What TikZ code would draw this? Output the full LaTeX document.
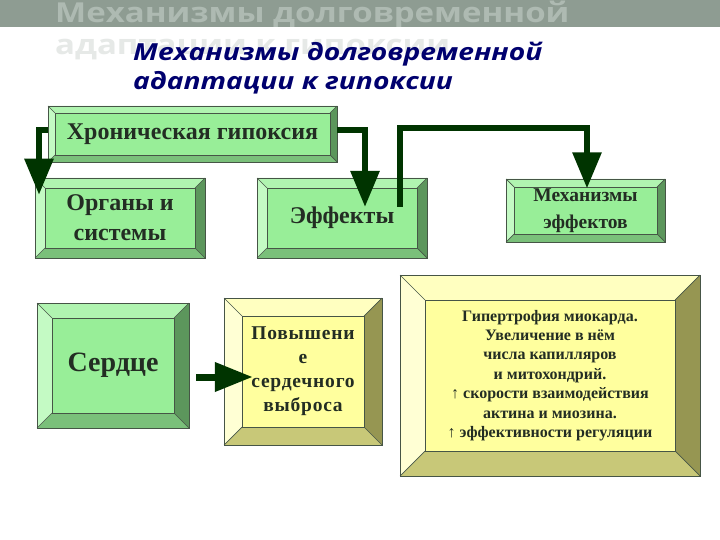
\documentclass[tikz,border=0pt]{standalone}
\usepackage{fontspec}
\setmainfont{Liberation Serif}
\newfontfamily\titlefont{Open Sans}[FakeStretch=1.2]
\usetikzlibrary{arrows.meta,calc}
\definecolor{banner}{RGB}{142,156,146}
\definecolor{ghostA}{RGB}{174,186,178}
\definecolor{ghostB}{RGB}{230,233,231}
\definecolor{navy}{RGB}{0,0,110}
\definecolor{conncol}{RGB}{0,52,0}
\definecolor{edgecol}{RGB}{70,85,70}
\definecolor{boxtxt}{RGB}{35,45,35}
% green palette
\definecolor{gT}{RGB}{176,244,176}
\definecolor{gL}{RGB}{196,250,196}
\definecolor{gR}{RGB}{92,150,92}
\definecolor{gB}{RGB}{122,192,122}
\definecolor{gC}{RGB}{152,238,152}
% yellow palette
\definecolor{yT}{RGB}{255,255,192}
\definecolor{yL}{RGB}{255,255,212}
\definecolor{yR}{RGB}{150,150,82}
\definecolor{yB}{RGB}{200,200,120}
\definecolor{yC}{RGB}{255,255,158}
\newcommand\bevbox[9]{% name,x1,y1,x2,y2,bevel,palette,font,text
  \fill[#7T] (#2,#3) -- (#4,#3) -- (#4-#6,#3+#6) -- (#2+#6,#3+#6) -- cycle;
  \fill[#7B] (#2,#5) -- (#4,#5) -- (#4-#6,#5-#6) -- (#2+#6,#5-#6) -- cycle;
  \fill[#7L] (#2,#3) -- (#2+#6,#3+#6) -- (#2+#6,#5-#6) -- (#2,#5) -- cycle;
  \fill[#7R] (#4,#3) -- (#4-#6,#3+#6) -- (#4-#6,#5-#6) -- (#4,#5) -- cycle;
  \fill[#7C] (#2+#6,#3+#6) rectangle (#4-#6,#5-#6);
  \draw[edgeline] (#2,#3) rectangle (#4,#5);
  \draw[edgeline] (#2+#6,#3+#6) rectangle (#4-#6,#5-#6);
  \draw[edgeline] (#2,#3) -- (#2+#6,#3+#6) (#4,#3) -- (#4-#6,#3+#6)
                  (#2,#5) -- (#2+#6,#5-#6) (#4,#5) -- (#4-#6,#5-#6);
  \node[boxlabel,font=#8,minimum width={#4-#2},minimum height={#3-#5}]
    (#1) at ({(#2+#4)/2},{(#3+#5)/2}) {#9};
}
\tikzset{
  edgeline/.style={draw=edgecol,line width=0.7pt},
  boxlabel/.style={inner sep=0pt,align=center,text=boxtxt},
  conn/.style={draw=conncol,line width=6pt,line join=miter,
    -{Triangle[length=36pt,width=28pt]}},
  connh/.style={draw=conncol,line width=7pt,
    -{Triangle[length=38pt,width=28pt]}},
  titletext/.style={anchor=base west,inner sep=0pt,text=navy,
    font=\titlefont\bfseries\itshape\fontsize{23.5}{27}\selectfont},
  ghosttext/.style={anchor=base west,inner sep=0pt,
    font=\titlefont\bfseries\fontsize{27.5}{33}\selectfont}
}
\begin{document}
\begin{tikzpicture}[x=1pt,y=-1pt]
\useasboundingbox (0,0) rectangle (720,540);
\fill[white] (0,0) rectangle (720,540);
% banner with ghost title
\fill[banner] (0,0) rectangle (720,27);
\begin{scope}
\clip (0,0) rectangle (720,27);
\node[ghosttext,text=ghostA] (gh1) at (55,23) {Механизмы долговременной};
\end{scope}
\begin{scope}
\clip (0,27) rectangle (720,60);
\node[ghosttext,text=ghostB] (gh2) at (55,55) {адаптации к гипоксии};
\end{scope}
% title
\node[titletext] (t1) at (133,61) {Механизмы долговременной};
\node[titletext] (t2) at (133,90) {адаптации к гипоксии};
% boxes
\bevbox{hyp}{48}{106}{337}{162}{7}{g}{\bfseries\fontsize{24}{27}\selectfont}{Хроническая гипоксия}
\bevbox{org}{35}{178}{205}{258}{10}{g}{\bfseries\fontsize{24}{30}\selectfont}{Органы и\\системы}
\bevbox{eff}{257}{178}{427}{258}{10}{g}{\bfseries\fontsize{24}{28}\selectfont}{Эффекты}
\bevbox{mech}{506}{179}{665}{242}{8}{g}{\bfseries\fontsize{19.5}{27}\selectfont}{Механизмы\\эффектов}
\bevbox{heart}{37}{303}{189}{428}{15}{g}{\bfseries\fontsize{28}{32}\selectfont}{Сердце}
\bevbox{co}{224}{298}{382}{445}{18}{y}{\bfseries\fontsize{19.5}{24}\selectfont\addfontfeature{LetterSpace=4}}{Повышени\\е\\сердечного\\выброса}
\bevbox{big}{400}{275}{700}{476}{25}{y}{\bfseries\fontsize{16}{19.4}\selectfont}{Гипертрофия миокарда.\\Увеличение в нём\\числа капилляров\\и митохондрий.\\↑ скорости взаимодействия\\актина и миозина.\\↑ эффективности регуляции}
% connectors
\coordinate (k1) at (39,130);
\coordinate (k2) at (365,130);
\coordinate (k3) at (400,128);
\coordinate (k4) at (587,128);
\coordinate (k5) at (196,377);
\draw[conn] (hyp.west |- k1) -- (k1) -- (k1 |- org.north);
\draw[conn] (hyp.east |- k2) -- (k2) -- (k2 |- eff.north);
\draw[conn] (eff.north -| k3) -- (k3) -- (k4) -- (k4 |- mech.north);
\draw[connh] (k5) -- ($(k5 -| co.west)+(29,0)$);
\end{tikzpicture}
\end{document}
